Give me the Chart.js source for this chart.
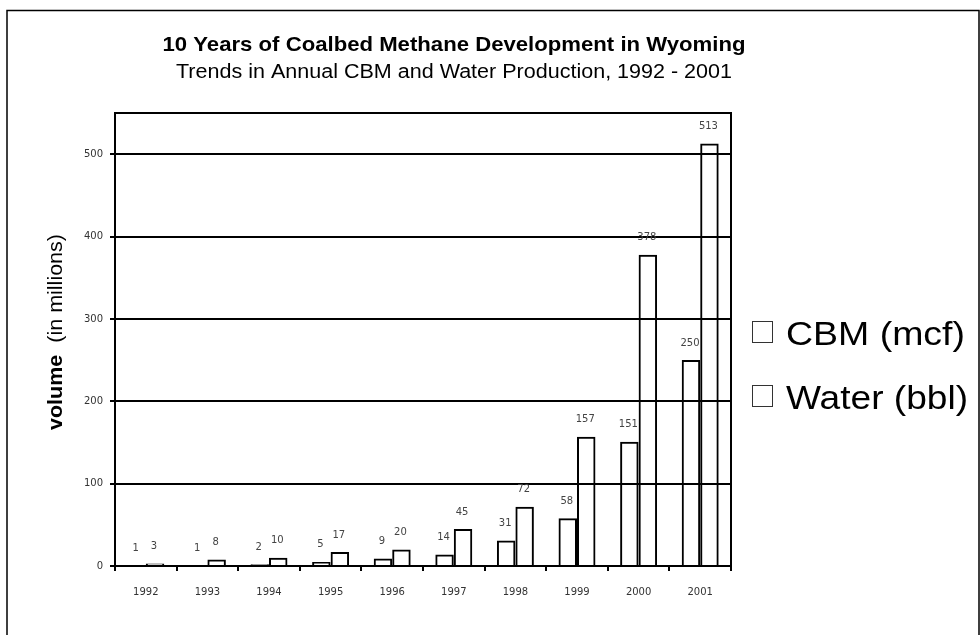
<!DOCTYPE html>
<html>
<head>
<meta charset="utf-8">
<script src="https://cdn.jsdelivr.net/npm/chart.js@4.4.1/dist/chart.umd.min.js"></script>
<style>
  html, body { margin: 0; padding: 0; background: #fff; }
  #wrap { width: 980px; height: 635px; position: relative; }
</style>
</head>
<body>
<div id="wrap"><canvas id="c" width="980" height="635"></canvas></div>
<script>
// Annual production in Wyoming, millions
const years = ['1992', '1993', '1994', '1995', '1996', '1997', '1998', '1999', '2000', '2001'];
const cbmMcf = [1, 1, 2, 5, 9, 14, 31, 58, 151, 250];
const waterBbl = [3, 8, 10, 17, 20, 45, 72, 157, 378, 513];
const seriesNames = ['CBM (mcf)', 'Water (bbl)'];
const yTicks = [0, 100, 200, 300, 400, 500];

const titleText = '10 Years of Coalbed Methane Development in Wyoming';
const subtitleText = 'Trends in Annual CBM and Water Production, 1992 - 2001';

// Draw text scaled horizontally so it spans a given width
function fitText(ctx, text, x, y, width, font, align) {
  ctx.save();
  ctx.font = font;
  const w = ctx.measureText(text).width;
  const sx = width / w;
  let left = x;
  if (align === 'center') left = x - width / 2;
  ctx.translate(left, y);
  ctx.scale(sx, 1);
  ctx.textAlign = 'left';
  ctx.fillText(text, 0, 0);
  ctx.restore();
}

// Hollow bars: outline only, gridlines show through
const barStyle = {
  backgroundColor: 'rgba(255,255,255,0)',
  borderColor: '#000',
  borderWidth: 2,
  categoryPercentage: 0.6,
  barPercentage: 1
};

const decorations = {
  id: 'decorations',
  beforeDraw(chart) {
    const ctx = chart.ctx;
    ctx.save();
    ctx.fillStyle = '#fff';
    ctx.fillRect(0, 0, chart.width, chart.height);
    // outer frame
    ctx.strokeStyle = '#000';
    ctx.lineWidth = 1.5;
    ctx.beginPath();
    ctx.moveTo(7, 640); ctx.lineTo(7, 10.5); ctx.lineTo(979, 10.5); ctx.lineTo(979, 640);
    ctx.stroke();
    ctx.restore();
  },
  afterDatasetsDraw(chart) {
    const ctx = chart.ctx;
    const a = chart.chartArea;
    ctx.save();
    // top and right edges of the plot
    ctx.strokeStyle = '#000';
    ctx.lineWidth = 2;
    ctx.beginPath();
    ctx.moveTo(a.left, a.top); ctx.lineTo(a.right, a.top); ctx.lineTo(a.right, a.bottom);
    ctx.stroke();

    // value labels above every bar
    ctx.fillStyle = '#444';
    ctx.font = '10px "DejaVu Sans"';
    ctx.textAlign = 'center';
    ctx.textBaseline = 'middle';
    chart.data.datasets.forEach((ds, i) => {
      chart.getDatasetMeta(i).data.forEach((bar, j) => {
        ctx.fillText(String(ds.data[j]), bar.x - 1, bar.y - 17);
      });
    });

    // titles
    ctx.fillStyle = '#000';
    ctx.textBaseline = 'alphabetic';
    fitText(ctx, titleText, 454, 51, 583, 'bold 21px "Liberation Sans"', 'center');
    fitText(ctx, subtitleText, 454, 78, 556, '20px "Liberation Sans"', 'center');

    // y axis title: bold "volume" then plain "(in millions)"
    ctx.save();
    ctx.translate(62, 332);
    ctx.rotate(-Math.PI / 2);
    ctx.textAlign = 'left';
    ctx.font = 'bold 20px "Liberation Sans"';
    const w1 = ctx.measureText('volume').width;
    ctx.font = '20px "Liberation Sans"';
    const w2 = ctx.measureText('  (in millions)').width;
    const sx = 196 / (w1 + w2);
    ctx.scale(sx, 1);
    const x0 = -(w1 + w2) / 2;
    ctx.font = 'bold 20px "Liberation Sans"';
    ctx.fillText('volume', x0, 0);
    ctx.font = '20px "Liberation Sans"';
    ctx.fillText('  (in millions)', x0 + w1, 0);
    ctx.restore();

    // legend
    const legendY = [333, 397];
    seriesNames.forEach((name, i) => {
      const cy = legendY[i];
      ctx.strokeStyle = '#333';
      ctx.lineWidth = 1;
      ctx.strokeRect(752.5, cy - 11.5, 20, 21);
      ctx.fillStyle = '#000';
      fitText(ctx, name, 786, cy + 12, i === 0 ? 179 : 182, '33px "Liberation Sans"', 'left');
    });
    ctx.restore();
  }
};

new Chart(document.getElementById('c'), {
  type: 'bar',
  data: {
    labels: years,
    datasets: [
      Object.assign({ label: seriesNames[0], data: cbmMcf }, barStyle),
      Object.assign({ label: seriesNames[1], data: waterBbl }, barStyle)
    ]
  },
  options: {
    responsive: false,
    animation: false,
    events: [],
    layout: { padding: { left: 0, right: 249, top: 113, bottom: 29 } },
    plugins: {
      legend: { display: false },
      title: { display: false },
      tooltip: { enabled: false },
      colors: { enabled: false }
    },
    scales: {
      x: {
        offset: true,
        border: { color: '#000', width: 2 },
        grid: { display: true, drawOnChartArea: false, drawTicks: true, tickLength: 5, color: '#000', lineWidth: 2, offset: true },
        ticks: { color: '#333', font: { family: 'DejaVu Sans', size: 10 }, padding: 15, maxRotation: 0 },
        afterFit(s) { s.height = 40; }
      },
      y: {
        min: 0,
        max: 550,
        border: { color: '#000', width: 2 },
        grid: { color: '#000', lineWidth: 2, tickLength: 5, drawTicks: true },
        afterBuildTicks(s) { s.ticks = yTicks.map(v => ({ value: v })); },
        ticks: { color: '#333', font: { family: 'DejaVu Sans', size: 10 }, padding: 7 },
        afterFit(s) { s.width = 115; }
      }
    }
  },
  plugins: [decorations]
});
</script>
</body>
</html>
